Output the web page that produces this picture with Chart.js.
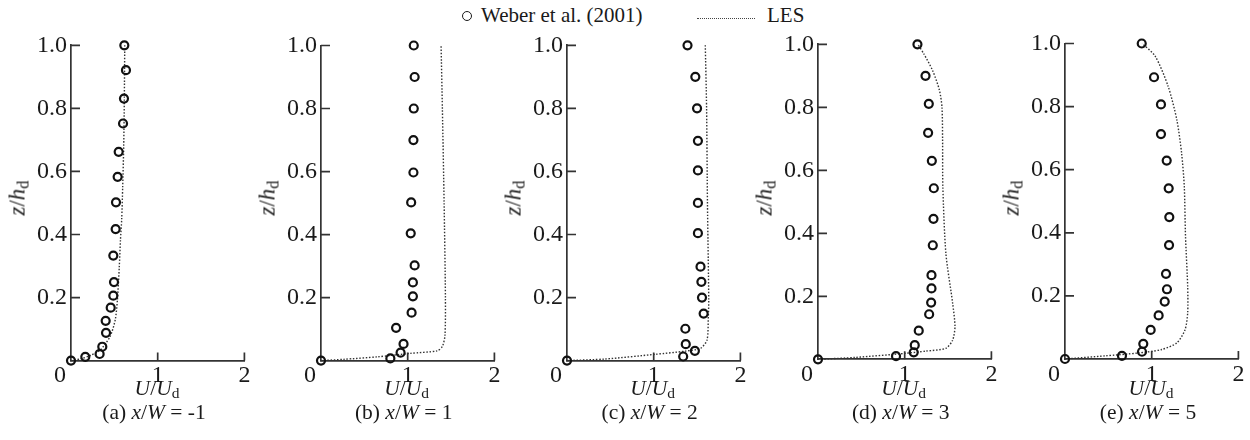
<!DOCTYPE html>
<html><head><meta charset="utf-8">
<script src="https://cdn.jsdelivr.net/npm/chart.js@4.4.1/dist/chart.umd.min.js"></script>
<style>
html,body{margin:0;padding:0;background:#fff;}
#wrap{position:relative;width:1250px;height:440px;overflow:hidden;font-family:'Liberation Serif','Times New Roman',serif;color:#1a1a1a;}
.panel{position:absolute;top:0;width:260px;height:440px;}
.panel canvas{position:absolute;left:0;top:0;}
.t{position:absolute;white-space:nowrap;line-height:1;transform:translate(-50%,-50%);font-size:21.5px;}
.yt{transform:translate(-50%,-50%) rotate(-90deg);font-size:23px;}
.sub{font-size:0.72em;position:relative;top:0.22em;font-style:normal;}
#legend{position:absolute;left:0;top:0;width:1250px;height:34px;font-size:21px;line-height:1;}
#legend .mk{position:absolute;left:462px;top:11px;width:10px;height:10px;box-sizing:border-box;border:1.8px solid #1a1a1a;border-radius:50%;}
#legend .dl{position:absolute;left:697px;top:18px;width:58px;height:0;border-top:1.5px dotted #444;}
#legend .tx{position:absolute;top:5px;white-space:nowrap;}
</style></head><body>
<div id="wrap">
  <div id="legend"></div>
</div>
<script>
// ---------- data ----------
const panelLabels = ['(a)', '(b)', '(c)', '(d)', '(e)'];
const xOverW = ['-1', '1', '2', '3', '5'];
const seriesLabels = ['Weber et al. (2001)', 'LES'];
const xTickValues = [0, 1, 2];
const yTickValues = [0.2, 0.4, 0.6, 0.8, 1.0];

const weberU_a = [0.615, 0.634, 0.611, 0.600, 0.550, 0.538, 0.519, 0.515, 0.488, 0.496, 0.488, 0.458, 0.400, 0.404, 0.361, 0.330, 0.165, 0.0];
const weberZ_a = [1.0, 0.921, 0.831, 0.752, 0.662, 0.583, 0.502, 0.417, 0.333, 0.249, 0.206, 0.168, 0.126, 0.088, 0.044, 0.021, 0.012, 0.0];
const lesU_a = [0, 0.12, 0.22, 0.335, 0.45, 0.51, 0.535, 0.557, 0.57, 0.585, 0.596, 0.608, 0.615, 0.62];
const lesZ_a = [0, 0.006, 0.016, 0.033, 0.076, 0.129, 0.192, 0.298, 0.38, 0.45, 0.55, 0.68, 0.83, 1.0];

const weberU_b = [1.07, 1.08, 1.07, 1.066, 1.066, 1.04, 1.035, 1.08, 1.06, 1.06, 1.045, 0.866, 0.952, 0.918, 0.80, 0.0];
const weberZ_b = [1.0, 0.90, 0.80, 0.70, 0.597, 0.502, 0.404, 0.302, 0.248, 0.204, 0.152, 0.104, 0.053, 0.025, 0.007, 0.0];
const lesU_b = [0, 0.26, 0.65, 1.03, 1.34, 1.40, 1.43, 1.435, 1.42, 1.40, 1.385];
const lesZ_b = [0, 0.004, 0.012, 0.023, 0.031, 0.045, 0.08, 0.2, 0.5, 0.8, 1.0];

const weberU_c = [1.39, 1.48, 1.50, 1.51, 1.51, 1.51, 1.51, 1.54, 1.55, 1.557, 1.576, 1.365, 1.37, 1.475, 1.34, 0.0];
const weberZ_c = [1.0, 0.90, 0.80, 0.697, 0.603, 0.50, 0.404, 0.298, 0.25, 0.20, 0.149, 0.101, 0.052, 0.031, 0.013, 0.0];
const lesU_c = [0, 0.44, 1.02, 1.365, 1.54, 1.615, 1.63, 1.635, 1.62, 1.61, 1.595];
const lesZ_c = [0, 0.005, 0.02, 0.03, 0.039, 0.065, 0.14, 0.19, 0.5, 0.8, 1.0];

const weberU_d = [1.147, 1.24, 1.278, 1.27, 1.313, 1.336, 1.332, 1.324, 1.309, 1.309, 1.305, 1.282, 1.162, 1.116, 1.104, 0.90, 0.0];
const weberZ_d = [1.0, 0.90, 0.811, 0.719, 0.63, 0.543, 0.446, 0.362, 0.267, 0.225, 0.18, 0.143, 0.091, 0.045, 0.022, 0.01, 0.0];
const lesU_d = [0, 0.437, 1.01, 1.243, 1.475, 1.553, 1.58, 1.553, 1.475, 1.44, 1.437, 1.43, 1.40, 1.32, 1.22, 1.15];
const lesZ_d = [0, 0.006, 0.019, 0.026, 0.035, 0.061, 0.104, 0.178, 0.336, 0.548, 0.70, 0.80, 0.855, 0.918, 0.97, 1.0];

const weberU_e = [0.885, 1.027, 1.107, 1.107, 1.173, 1.196, 1.203, 1.20, 1.165, 1.176, 1.15, 1.08, 0.988, 0.903, 0.888, 0.657, 0.0];
const weberZ_e = [1.0, 0.893, 0.807, 0.713, 0.629, 0.541, 0.45, 0.361, 0.27, 0.221, 0.182, 0.138, 0.092, 0.048, 0.023, 0.01, 0.0];
const lesU_e = [0, 0.46, 0.846, 1.115, 1.29, 1.385, 1.415, 1.415, 1.39, 1.376, 1.345, 1.29, 1.19, 1.04, 0.89];
const lesZ_e = [0, 0.01, 0.019, 0.03, 0.051, 0.093, 0.146, 0.23, 0.388, 0.546, 0.652, 0.758, 0.864, 0.96, 1.0];

const weberU = [weberU_a, weberU_b, weberU_c, weberU_d, weberU_e];
const weberZ = [weberZ_a, weberZ_b, weberZ_c, weberZ_d, weberZ_e];
const lesU = [lesU_a, lesU_b, lesU_c, lesU_d, lesU_e];
const lesZ = [lesZ_a, lesZ_b, lesZ_c, lesZ_d, lesZ_e];

// ---------- layout ----------
const AXIS_LEFT = [71, 320.7, 566.7, 817.7, 1065];
const PLOT_TOP = [45.3, 45.5, 45.3, 44.3, 43.5];
const PLOT_BOTTOM = [360.6, 360.6, 360.6, 359.3, 359.0];
const PLOT_W = 173.4;
const CANVAS_W = 260, CANVAS_H = 440;
const Y_AXIS_W = 71;
const X_AXIS_H = 30;
const AXIS_COLOR = '#333';
const TEXT_COLOR = '#1a1a1a';
const TICK_FONT_SIZE = 24;
const FONT_FAMILY = "'Liberation Serif', 'Times New Roman', serif";

// legend (HTML text)
const lg = document.getElementById('legend');
lg.innerHTML = '<div class="mk"></div><div class="tx" style="left:481px">' + seriesLabels[0] +
  '</div><div class="dl"></div><div class="tx" style="left:767px">' + seriesLabels[1] + '</div>';

const innerTicks = {
  id: 'innerTicks',
  afterDraw(chart) {
    const {ctx, chartArea} = chart;
    const xs = chart.scales.x, ys = chart.scales.y;
    ctx.save();
    ctx.strokeStyle = AXIS_COLOR;
    ctx.lineWidth = 1.7;
    ctx.beginPath();
    yTickValues.forEach(v => {
      const y = ys.getPixelForValue(v);
      ctx.moveTo(chartArea.left, y); ctx.lineTo(chartArea.left + 9, y);
    });
    xTickValues.filter(v => v > 0).forEach(v => {
      const x = xs.getPixelForValue(v);
      ctx.moveTo(x, chartArea.bottom); ctx.lineTo(x, chartArea.bottom - 8);
    });
    ctx.stroke();
    // corner "0" label shifted left of origin
    let y = chartArea.bottom + 14, base = 'middle', fontStr = TICK_FONT_SIZE + 'px ' + FONT_FAMILY;
    if (xs.getLabelItems) {
      const items = xs.getLabelItems();
      const it = items.find(i => i.label === '1');
      if (it) { y = it.options.translation[1] + it.textOffset; base = it.options.textBaseline; fontStr = it.font.string; }
    }
    ctx.fillStyle = TEXT_COLOR;
    ctx.font = fontStr;
    ctx.textAlign = 'center';
    ctx.textBaseline = base;
    ctx.fillText(String(xTickValues[0]), xs.getPixelForValue(0) - 11, y);
    ctx.restore();
  }
};

for (let i = 0; i < 5; i++) {
  const panel = document.createElement('div');
  panel.className = 'panel';
  panel.style.left = (AXIS_LEFT[i] - Y_AXIS_W) + 'px';
  const cv = document.createElement('canvas');
  cv.width = CANVAS_W; cv.height = CANVAS_H;
  cv.style.width = CANVAS_W + 'px'; cv.style.height = CANVAS_H + 'px';
  panel.appendChild(cv);

  const yTitle = document.createElement('div');
  yTitle.className = 't yt';
  yTitle.style.left = (Y_AXIS_W - 54) + 'px';
  yTitle.style.top = '198px';
  yTitle.innerHTML = '<i>z</i>/<i>h</i><span class="sub">d</span>';
  panel.appendChild(yTitle);

  const xTitle = document.createElement('div');
  xTitle.className = 't';
  xTitle.style.left = (Y_AXIS_W + 86) + 'px';
  xTitle.style.top = '389px';
  xTitle.innerHTML = '<i>U</i>/<i>U</i><span class="sub">d</span>';
  panel.appendChild(xTitle);

  const cap = document.createElement('div');
  cap.className = 't';
  cap.style.left = (Y_AXIS_W + 83) + 'px';
  cap.style.top = '413px';
  cap.innerHTML = panelLabels[i] + ' <i>x</i>/<i>W</i> = ' + xOverW[i];
  panel.appendChild(cap);

  document.getElementById('wrap').appendChild(panel);

  const weberPts = weberU[i].map((u, k) => ({x: u, y: weberZ[i][k]}));
  const lesPts = lesU[i].map((u, k) => ({x: u, y: lesZ[i][k]}));

  new Chart(cv.getContext('2d'), {
    type: 'scatter',
    data: {
      datasets: [
        {label: seriesLabels[0], data: weberPts, showLine: false, pointStyle: 'circle',
         pointRadius: 4, pointHoverRadius: 4, pointBorderWidth: 2.2,
         pointBorderColor: '#111', pointBackgroundColor: 'rgba(0,0,0,0)', clip: false},
        {label: seriesLabels[1], data: lesPts, showLine: true, pointRadius: 0, pointHoverRadius: 0,
         borderColor: '#333', borderWidth: 1.4, borderDash: [1.5, 1.7], tension: 0.25, fill: false, clip: false}
      ]
    },
    options: {
      responsive: false, animation: false, events: [],
      layout: {padding: {left: 0, right: CANVAS_W - Y_AXIS_W - PLOT_W, top: PLOT_TOP[i], bottom: CANVAS_H - PLOT_BOTTOM[i] - X_AXIS_H}},
      plugins: {legend: {display: false}, tooltip: {enabled: false}, title: {display: false}},
      scales: {
        x: {
          type: 'linear', min: 0, max: 2,
          afterBuildTicks: s => { s.ticks = xTickValues.map(v => ({value: v})); },
          ticks: {callback: v => (v === 0 ? '' : String(v)), font: {family: FONT_FAMILY, size: TICK_FONT_SIZE}, color: TEXT_COLOR, padding: 1, maxRotation: 0, autoSkip: false},
          grid: {display: true, drawOnChartArea: false, drawTicks: false},
          border: {display: true, color: AXIS_COLOR, width: 1.7},
          afterFit: s => { s.height = X_AXIS_H; s.paddingLeft = 0; s.paddingRight = 0; }
        },
        y: {
          type: 'linear', min: 0, max: 1,
          afterBuildTicks: s => { s.ticks = [0].concat(yTickValues).map(v => ({value: v})); },
          ticks: {callback: v => (v === 0 ? '' : Number(v).toFixed(1)), font: {family: FONT_FAMILY, size: TICK_FONT_SIZE}, color: TEXT_COLOR, padding: 4, autoSkip: false},
          grid: {display: true, drawOnChartArea: false, drawTicks: false},
          border: {display: true, color: AXIS_COLOR, width: 1.7},
          afterFit: s => { s.width = Y_AXIS_W; s.paddingTop = 0; s.paddingBottom = 0; }
        }
      }
    },
    plugins: [innerTicks]
  });
}
</script>
</body></html>
